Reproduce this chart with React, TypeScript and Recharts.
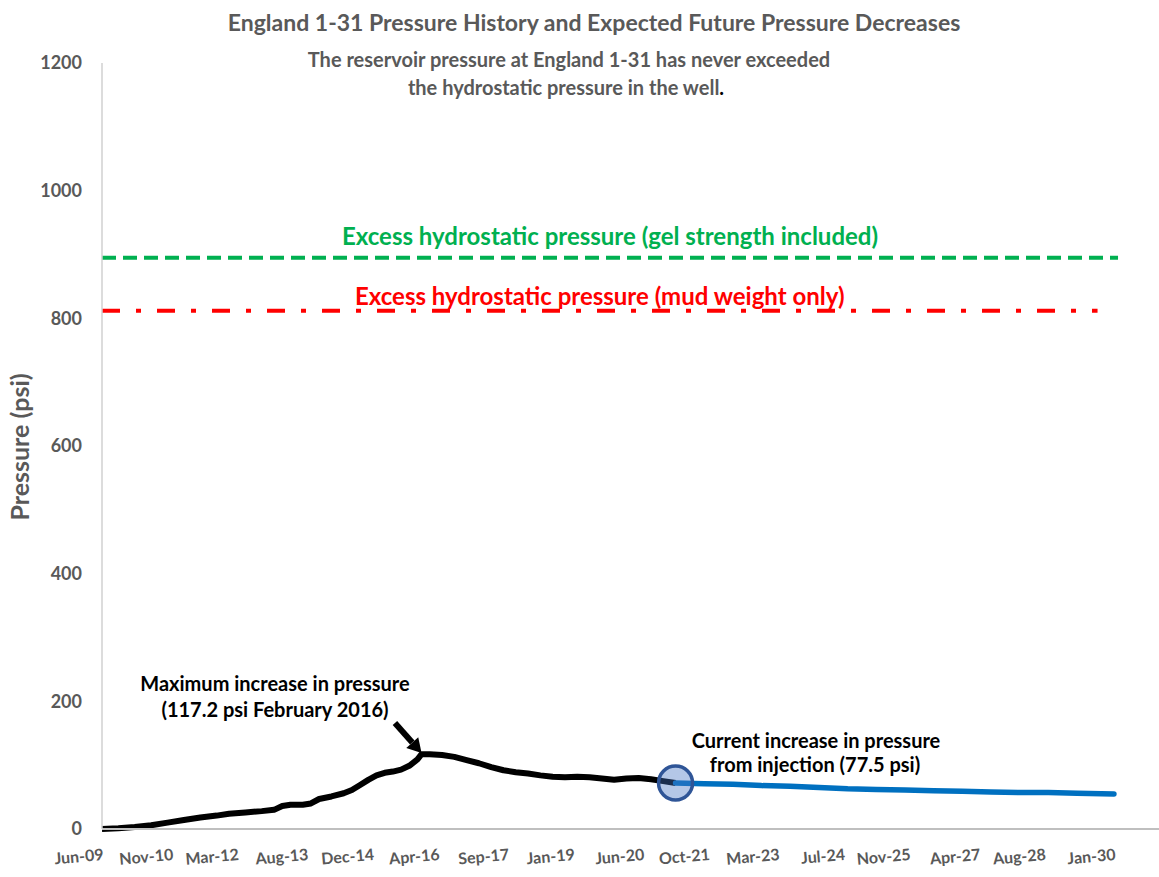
import React from 'react';
import { LineChart, Line, XAxis, YAxis, ReferenceLine } from 'recharts';

const MONTH_NAMES = ['Jan', 'Feb', 'Mar', 'Apr', 'May', 'Jun', 'Jul', 'Aug', 'Sep', 'Oct', 'Nov', 'Dec'];

// x tick labels (Excel date axis, ~500 day steps)
const TICK_LABELS = [
  'Jun-09', 'Nov-10', 'Mar-12', 'Aug-13', 'Dec-14', 'Apr-16', 'Sep-17', 'Jan-19',
  'Jun-20', 'Oct-21', 'Mar-23', 'Jul-24', 'Nov-25', 'Apr-27', 'Aug-28', 'Jan-30',
];
const Y_TICKS = [0, 200, 400, 600, 800, 1000, 1200];

// measured pressure increase (months since Jun-2009)
const HIST_MONTH = [0, 4, 8, 12, 16, 20, 24, 28, 31, 35, 39, 42, 44, 46, 49, 51, 53, 56, 59, 61, 63, 65, 67, 69, 71, 73, 75, 77, 78,
  80, 83, 86, 89, 92, 95, 98, 101, 104, 107, 110, 113, 116, 119, 122, 125, 128, 131, 134, 137, 140];
const HIST_PSI = [0, 1, 3, 6, 10, 14, 18, 21, 24, 26, 28, 30, 36, 38, 38, 40, 47, 51, 56, 61, 69, 77, 84, 88, 90, 93, 99, 109, 117.2,
  117, 116, 113, 108, 103, 97, 92, 89, 87, 84, 82, 81, 82, 81, 79, 77, 79, 80, 78, 75, 72];

// expected future pressure decrease
const FCST_MONTH = [140, 147, 154, 161, 168, 175, 182, 189, 196, 203, 210, 217, 224, 231, 238, 247];
const FCST_PSI = [72, 71, 70, 68, 67, 65, 63, 62, 61, 60, 59, 58, 57, 57, 56, 55];

const CURRENT_MONTH = 140;
const CURRENT_PSI = 72;

const GEL_LIMIT = 895;
const MUD_LIMIT = 812;

const toMonth = (label: string) => {
  const [mon, yy] = label.split('-');
  return (Number(yy) - 9) * 12 + MONTH_NAMES.indexOf(mon) - 5;
};
const TICK_MONTHS = TICK_LABELS.map(toMonth);
const labelFor: Record<number, string> = {};
TICK_LABELS.forEach((l, i) => (labelFor[TICK_MONTHS[i]] = l));

const rows: Record<number, any> = {};
HIST_MONTH.forEach((m, i) => (rows[m] = { ...(rows[m] || { m }), hist: HIST_PSI[i] }));
FCST_MONTH.forEach((m, i) => (rows[m] = { ...(rows[m] || { m }), fcst: FCST_PSI[i] }));
rows[CURRENT_MONTH] = { ...rows[CURRENT_MONTH], now: CURRENT_PSI };
const data = Object.values(rows).sort((a, b) => a.m - b.m);

const FONT = 'Lato, "Open Sans", sans-serif';
const GRAY = '#595959';

const XTick = (props: any) => {
  const { x, y, payload } = props;
  const ty = y + 31;
  return (
    <text x={x + 2} y={ty} textAnchor="end" fill={GRAY} fontSize={16} fontWeight={700} fontFamily={FONT}
      transform={`rotate(-5, ${x + 2}, ${ty})`}>
      {labelFor[payload.value]}
    </text>
  );
};

// semi-transparent so the lines show through, like the reference
const CurrentDot = (props: any) => {
  const { cx, cy, value } = props;
  if (value == null) return null;
  return <circle cx={cx} cy={cy} r={17} fill="#4472C4" fillOpacity={0.4} stroke="#2F5597" strokeWidth={3.5} />;
};

const Arrow = (props: any) => {
  const { x1, y1, x2, y2 } = props;
  if (x1 == null) return null;
  const ang = Math.atan2(y2 - y1, x2 - x1);
  const L = 14, W = 8;
  const bx = x2 - L * Math.cos(ang), by = y2 - L * Math.sin(ang);
  const px = -Math.sin(ang) * W, py = Math.cos(ang) * W;
  return (
    <g>
      <line x1={x1} y1={y1} x2={bx} y2={by} stroke="#000" strokeWidth={6} />
      <polygon points={`${x2},${y2} ${bx + px},${by + py} ${bx - px},${by - py}`} fill="#000" />
    </g>
  );
};

const textStyle = (color: string, size: number): React.CSSProperties => ({
  position: 'absolute', transform: 'translate(-50%, -50%)', whiteSpace: 'nowrap',
  fontFamily: FONT, fontWeight: 700, fontSize: size, color, lineHeight: 1,
});

export default function App() {
  return (
    <div style={{ position: 'relative', width: 1159, height: 877, background: '#fff', overflow: 'hidden' }}>
      <style>{'body{margin:0}'}</style>
      <LineChart width={1159} height={877} data={data} margin={{ top: 63, right: 0, bottom: 0, left: 0 }}>
        <XAxis dataKey="m" type="number" domain={[0, 258]} ticks={TICK_MONTHS} interval={0}
          tick={<XTick />} tickLine={false} tickSize={0} tickMargin={0} height={48}
          axisLine={{ stroke: '#BFBFBF', strokeWidth: 2 }} />
        <YAxis type="number" domain={[0, 1200]} ticks={Y_TICKS} width={102} tickLine={false}
          tickSize={0} tickMargin={20} axisLine={{ stroke: '#D0D0D0', strokeWidth: 1.5 }}
          tick={{ fill: GRAY, fontSize: 18, fontWeight: 700, fontFamily: FONT }} />
        <ReferenceLine segment={[{ x: 0, y: GEL_LIMIT }, { x: 248, y: GEL_LIMIT }]} stroke="#00B050"
          strokeWidth={4} strokeDasharray="14 7"
          label={{ value: 'Excess hydrostatic pressure (gel strength included)', position: 'top', offset: 13,
            fill: '#00B050', fontSize: 24, fontWeight: 700, fontFamily: FONT }} />
        <ReferenceLine segment={[{ x: 0, y: MUD_LIMIT }, { x: 243, y: MUD_LIMIT }]} stroke="#FF0000"
          strokeWidth={4} strokeDasharray="18 16 5 16"
          label={{ value: 'Excess hydrostatic pressure (mud weight only)', position: 'top', offset: 6,
            fill: '#FF0000', fontSize: 24, fontWeight: 700, fontFamily: FONT }} />
        <Line dataKey="hist" stroke="#000" strokeWidth={6} dot={false} activeDot={false} connectNulls
          strokeLinejoin="round" isAnimationActive={false} />
        <Line dataKey="fcst" stroke="#0070C0" strokeWidth={5.5} dot={false} activeDot={false} connectNulls
          strokeLinecap="round" strokeLinejoin="round" isAnimationActive={false} />
        <Line dataKey="now" stroke="none" dot={<CurrentDot />} activeDot={false} isAnimationActive={false} />
        <ReferenceLine segment={[{ x: 71.5, y: 166 }, { x: 78, y: 119 }]} shape={<Arrow />} />
      </LineChart>

      <div style={{ ...textStyle(GRAY, 23), left: 594, top: 22 }}>
        England 1-31 Pressure History and Expected Future Pressure Decreases
      </div>
      <div style={{ ...textStyle(GRAY, 20), left: 569, top: 59 }}>
        The reservoir pressure at England 1-31 has never exceeded
      </div>
      <div style={{ ...textStyle(GRAY, 20), left: 566, top: 87 }}>
        the hydrostatic pressure in the well<span style={{ color: '#000' }}>.</span>
      </div>
      <div style={{ ...textStyle(GRAY, 25), left: 19, top: 447, transform: 'translate(-50%, -50%) rotate(-90deg)' }}>
        Pressure (psi)
      </div>
      <div style={{ ...textStyle('#000', 20), left: 275, top: 683 }}>Maximum increase in pressure</div>
      <div style={{ ...textStyle('#000', 20), left: 275, top: 709 }}>(117.2 psi February 2016)</div>
      <div style={{ ...textStyle('#000', 20), left: 816, top: 740 }}>Current increase in pressure</div>
      <div style={{ ...textStyle('#000', 20), left: 815, top: 764 }}>from injection (77.5 psi)</div>
    </div>
  );
}
